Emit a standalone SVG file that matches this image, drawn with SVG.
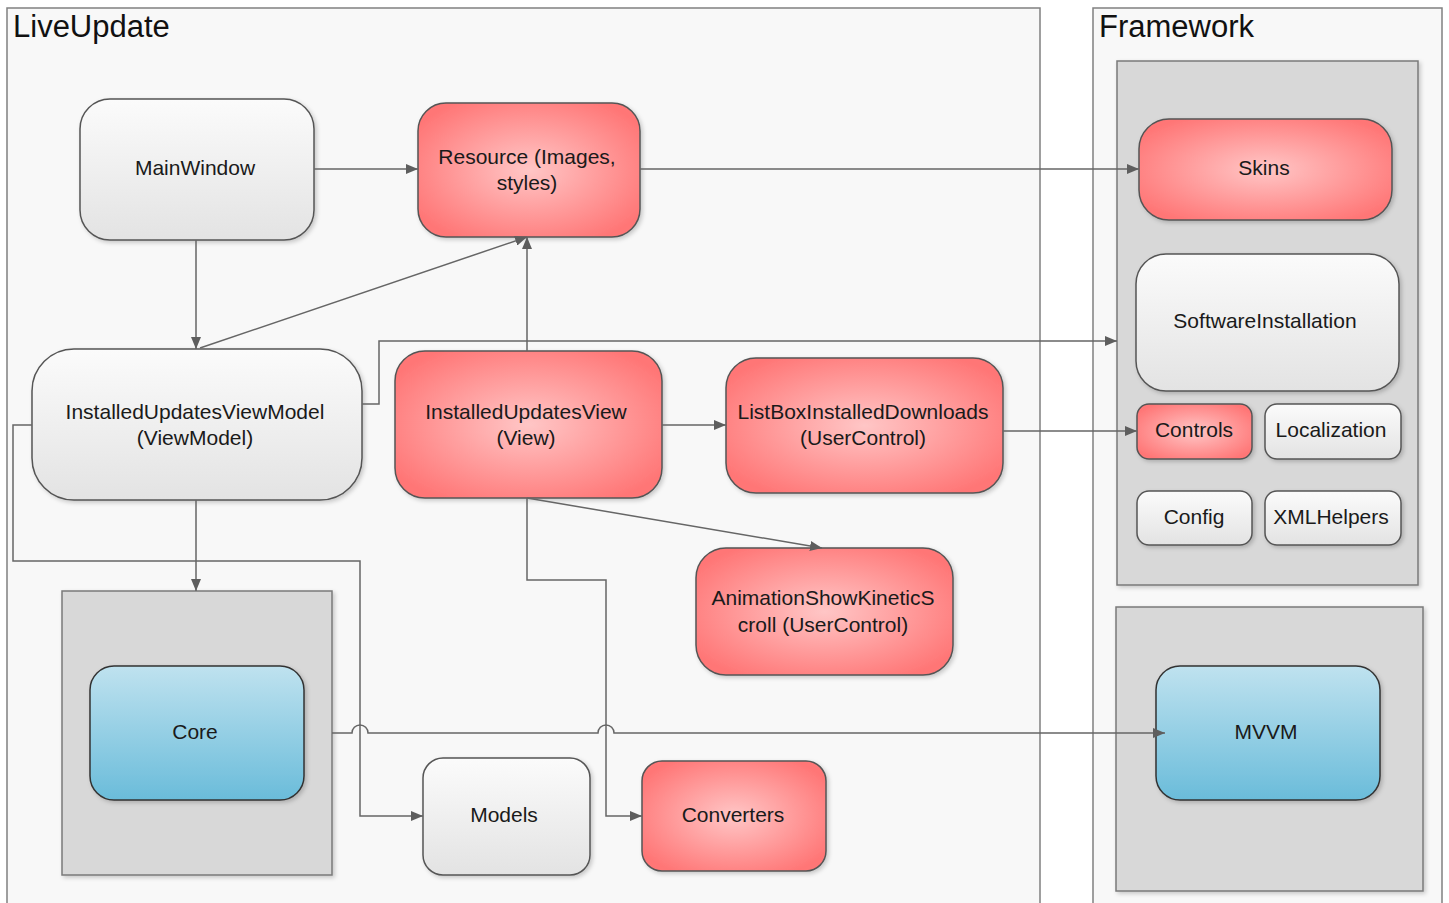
<svg xmlns="http://www.w3.org/2000/svg" width="1449" height="903" viewBox="0 0 1449 903">
  <style>
    .container { fill: #f8f8f8; stroke: #808080; stroke-width: 1.5; }
    .pkg { fill: #d8d8d8; stroke: #7a7a7a; stroke-width: 1.5; filter: url(#shadow); }
    .title { font-family: "Liberation Sans", Arial, sans-serif; font-size: 31px; fill: #111; }
    .lbl { font-family: "Liberation Sans", Arial, sans-serif; font-size: 21px; fill: #1a1a1a; text-anchor: middle; }
    .red { fill: url(#redGrad); stroke: #555; stroke-width: 1.5; filter: url(#shadow); }
    .gray { fill: url(#grayGrad); stroke: #555; stroke-width: 1.5; filter: url(#shadow); }
    .blue { fill: url(#blueGrad); stroke: #333; stroke-width: 1.5; filter: url(#shadow); }
    .conn { fill: none; stroke: #666; stroke-width: 1.5; }
    .arr { marker-end: url(#arrow); }
  </style>
  <defs>
    <radialGradient id="redGrad" cx="50%" cy="50%" r="60%">
      <stop offset="0" stop-color="#ffc6c6"/>
      <stop offset="1" stop-color="#ff7676"/>
    </radialGradient>
    <linearGradient id="grayGrad" x1="0" y1="0" x2="0" y2="1">
      <stop offset="0" stop-color="#fbfbfb"/>
      <stop offset="1" stop-color="#e3e3e3"/>
    </linearGradient>
    <linearGradient id="blueGrad" x1="0" y1="0" x2="0" y2="1">
      <stop offset="0" stop-color="#bfe2ef"/>
      <stop offset="1" stop-color="#6abcda"/>
    </linearGradient>
    <filter id="shadow" x="-10%" y="-10%" width="125%" height="125%">
      <feDropShadow dx="2" dy="2" stdDeviation="2" flood-color="#000" flood-opacity="0.2"/>
    </filter>
    <marker id="arrow" viewBox="0 0 12 10" refX="12" refY="5" markerWidth="12" markerHeight="10" markerUnits="userSpaceOnUse" orient="auto">
      <path d="M0,0 L12,5 L0,10 Z" fill="#5e5e5e"/>
    </marker>
  </defs>

  <rect width="1449" height="903" fill="#ffffff"/>

  <!-- containers -->
  <g id="liveupdate">
    <rect class="container" x="7" y="8" width="1033" height="910"/>
    <text class="title" x="13" y="37">LiveUpdate</text>
  </g>
  <g id="framework">
    <rect class="container" x="1093" y="8" width="349" height="910"/>
    <text class="title" x="1099" y="37">Framework</text>
  </g>

  <!-- package boxes -->
  <g id="framework-pkg">
    <rect class="pkg" x="1117" y="61" width="301" height="524"/>
  </g>
  <g id="mvvm-pkg">
    <rect class="pkg" x="1116" y="607" width="307" height="284"/>
  </g>
  <g id="core-pkg">
    <rect class="pkg" x="62" y="591" width="270" height="284"/>
  </g>

  <!-- LiveUpdate nodes -->
  <g id="mainwindow">
    <rect class="gray" x="80" y="99" width="234" height="141" rx="30"/>
    <text class="lbl" x="195" y="175">MainWindow</text>
  </g>
  <g id="resource">
    <rect class="red" x="418" y="103" width="222" height="134" rx="28"/>
    <text class="lbl" x="527" y="164">Resource (Images,</text>
    <text class="lbl" x="527" y="190">styles)</text>
  </g>
  <g id="installedupdatesviewmodel">
    <rect class="gray" x="32" y="349" width="330" height="151" rx="42"/>
    <text class="lbl" x="195" y="419">InstalledUpdatesViewModel</text>
    <text class="lbl" x="195" y="445">(ViewModel)</text>
  </g>
  <g id="installedupdatesview">
    <rect class="red" x="395" y="351" width="267" height="147" rx="30"/>
    <text class="lbl" x="526" y="419">InstalledUpdatesView</text>
    <text class="lbl" x="526" y="445">(View)</text>
  </g>
  <g id="listboxinstalleddownloads">
    <rect class="red" x="726" y="358" width="277" height="135" rx="30"/>
    <text class="lbl" x="863" y="419">ListBoxInstalledDownloads</text>
    <text class="lbl" x="863" y="445">(UserControl)</text>
  </g>
  <g id="animationshowkineticscroll">
    <rect class="red" x="696" y="548" width="257" height="127" rx="30"/>
    <text class="lbl" x="823" y="605">AnimationShowKineticS</text>
    <text class="lbl" x="823" y="632">croll (UserControl)</text>
  </g>
  <g id="core">
    <rect class="blue" x="90" y="666" width="214" height="134" rx="24"/>
    <text class="lbl" x="195" y="739">Core</text>
  </g>
  <g id="models">
    <rect class="gray" x="423" y="758" width="167" height="117" rx="20"/>
    <text class="lbl" x="504" y="822">Models</text>
  </g>
  <g id="converters">
    <rect class="red" x="642" y="761" width="184" height="110" rx="20"/>
    <text class="lbl" x="733" y="822">Converters</text>
  </g>

  <!-- Framework nodes -->
  <g id="skins">
    <rect class="red" x="1139" y="119" width="253" height="101" rx="30"/>
    <text class="lbl" x="1264" y="175">Skins</text>
  </g>
  <g id="softwareinstallation">
    <rect class="gray" x="1136" y="254" width="263" height="137" rx="30"/>
    <text class="lbl" x="1265" y="328">SoftwareInstallation</text>
  </g>
  <g id="controls">
    <rect class="red" x="1137" y="404" width="115" height="55" rx="12"/>
    <text class="lbl" x="1194" y="437">Controls</text>
  </g>
  <g id="localization">
    <rect class="gray" x="1265" y="404" width="136" height="55" rx="12"/>
    <text class="lbl" x="1331" y="437">Localization</text>
  </g>
  <g id="config">
    <rect class="gray" x="1137" y="491" width="115" height="54" rx="12"/>
    <text class="lbl" x="1194" y="524">Config</text>
  </g>
  <g id="xmlhelpers">
    <rect class="gray" x="1265" y="491" width="136" height="54" rx="12"/>
    <text class="lbl" x="1331" y="524">XMLHelpers</text>
  </g>
  <g id="mvvm">
    <rect class="blue" x="1156" y="666" width="224" height="134" rx="24"/>
    <text class="lbl" x="1266" y="739">MVVM</text>
  </g>

  <!-- connectors, drawn over the boxes so arrowheads stay visible -->
  <g id="connectors">
    <path class="conn arr" d="M314,169 H418"/>
    <path class="conn arr" d="M640,169 H1139"/>
    <path class="conn arr" d="M196,240 V349"/>
    <path class="conn arr" d="M200,348 L527,237"/>
    <path class="conn arr" d="M527,351 V237"/>
    <path class="conn arr" d="M362,404 H379 V341 H1117"/>
    <path class="conn arr" d="M662,425 H726"/>
    <path class="conn arr" d="M1003,431 H1137"/>
    <path class="conn arr" d="M527,498 L822,548"/>
    <path class="conn arr" d="M527,498 V580 H606 V816 H642"/>
    <path class="conn arr" d="M32,425 H13 V561 H360 V816 H423"/>
    <path class="conn arr" d="M196,500 V591"/>
    <path class="conn arr" d="M332,733 H352 A8,8 0 0 1 368,733 H598 A8,8 0 0 1 614,733 H1165"/>
  </g>
</svg>
